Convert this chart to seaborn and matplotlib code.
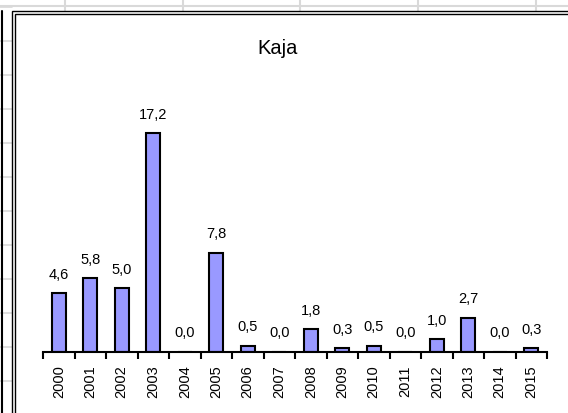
import matplotlib
matplotlib.use("Agg")
import matplotlib.pyplot as plt
import seaborn as sns
import pandas as pd
from matplotlib.patches import Rectangle
from matplotlib.lines import Line2D

years = [str(y) for y in range(2000, 2016)]
values = [4.6, 5.8, 5.0, 17.2, 0.0, 7.8, 0.5, 0.0, 1.8, 0.3, 0.5, 0.0, 1.0, 2.7, 0.0, 0.3]
title = "Kaja"

df = pd.DataFrame({"year": years, "value": values})

sns.set_style("white")
plt.rcParams['font.family'] = ['Liberation Sans', 'DejaVu Sans']
plt.rcParams['text.color'] = 'black'
plt.rcParams['xtick.color'] = 'black'
plt.rcParams['xtick.labelcolor'] = 'black'

W, H = 568, 414
fig = plt.figure(figsize=(W / 100, H / 100), dpi=100)

# spreadsheet grid behind the chart object
grid_c = "#d9d9d9"
for y in range(8, H, 34):
    fig.add_artist(Line2D([0, 12 / W], [1 - y / H] * 2, color=grid_c, lw=1.2, zorder=-2))
fig.add_artist(Line2D([0, 1], [1 - 7 / H] * 2, color=grid_c, lw=1.5, zorder=-2))
for x in [65, 183, 300, 418, 536]:
    fig.add_artist(Line2D([x / W] * 2, [1, 1 - 12 / H], color=grid_c, lw=1.5, zorder=-2))
fig.add_artist(Line2D([2 / W] * 2, [0, 1 - 12 / H], color="black", lw=1.5, zorder=-2))

# chart frame (double line)
fig.add_artist(Rectangle((12 / W, -0.1), 1.2, 1 - 12 / H + 0.1, transform=fig.transFigure,
                         facecolor="white", edgecolor="black", lw=1.0, zorder=-1))
fig.add_artist(Rectangle((14.5 / W, -0.1), 1.2, 1 - 14.5 / H + 0.1, transform=fig.transFigure,
                         facecolor="none", edgecolor="black", lw=1.0, zorder=-1))

left, right, base = 43, 547, 353
ymax = 20
ppu = 12.73
top = base - ymax * ppu
ax = fig.add_axes([left / W, 1 - base / H, (right - left) / W, (base - top) / H])
ax.set_zorder(1)
ax.patch.set_alpha(0)

sns.barplot(data=df, x="year", y="value", color="#9999ff", width=0.46,
            edgecolor="black", linewidth=1.5, saturation=1, ax=ax)

ax.set_ylim(0, ymax)
ax.set_xlim(-0.5, len(years) - 0.5)
for s in ["top", "right", "left"]:
    ax.spines[s].set_visible(False)
ax.spines["bottom"].set_linewidth(1.5)
ax.spines["bottom"].set_color("black")
ax.set_yticks([])
ax.set_xlabel("")
ax.set_ylabel("")

ax.set_xticks(range(len(years)))
ax.set_xticklabels(years, rotation=90, fontsize=10.5)
ax.tick_params(axis="x", which="major", length=0, pad=9)
ax.set_xticks([i - 0.5 for i in range(len(years) + 1)], minor=True)
ax.tick_params(axis="x", which="minor", bottom=True, length=5, width=1.5,
               color="black", direction="out")

ax.bar_label(ax.containers[0], labels=[f"{v:.1f}".replace(".", ",") for v in values],
             padding=9, fontsize=10.5)

fig.text(277.5 / W, 1 - 53.5 / H, title, ha="center", va="baseline", fontsize=14.5)

fig.savefig("out.png", dpi=100)
